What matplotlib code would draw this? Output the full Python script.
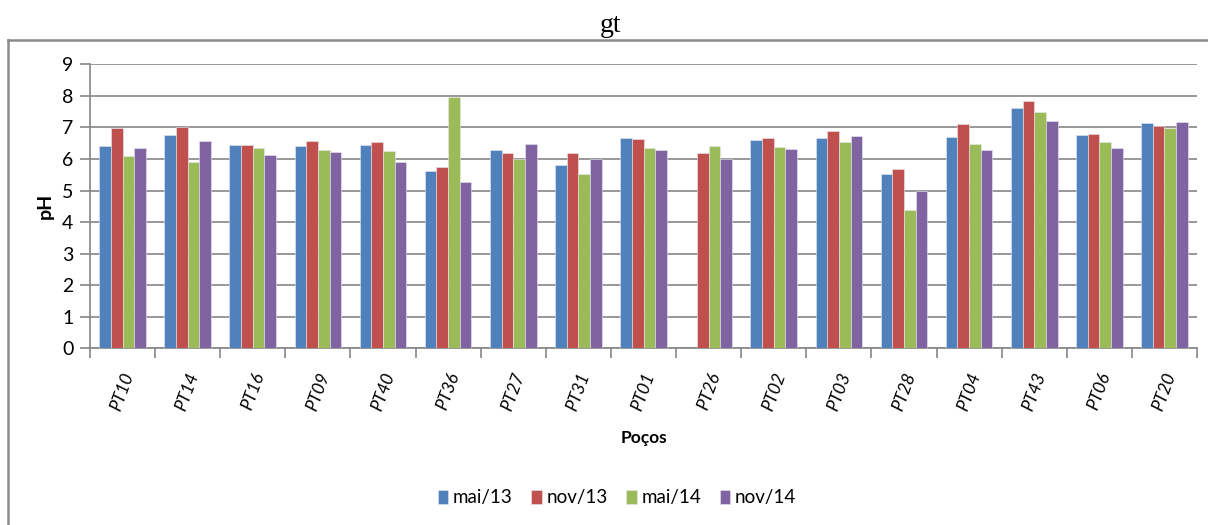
import numpy as np
import matplotlib
matplotlib.use('Agg')
import matplotlib.pyplot as plt
import matplotlib.transforms as mtransforms
from matplotlib.lines import Line2D
from matplotlib.ticker import FixedLocator, NullFormatter

# pH per well and campaign (PT26 has no May/2013 reading)
wells = ['PT10', 'PT14', 'PT16', 'PT09', 'PT40', 'PT36', 'PT27', 'PT31', 'PT01',
         'PT26', 'PT02', 'PT03', 'PT28', 'PT04', 'PT43', 'PT06', 'PT20']
mai13 = [6.41, 6.75, 6.44, 6.41, 6.44, 5.63, 6.28, 5.80, 6.65,
         np.nan, 6.59, 6.65, 5.52, 6.69, 7.60, 6.75, 7.13]
nov13 = [6.99, 7.02, 6.44, 6.58, 6.55, 5.73, 6.18, 6.18, 6.62,
         6.18, 6.65, 6.90, 5.67, 7.10, 7.85, 6.78, 7.03]
mai14 = [6.10, 5.89, 6.35, 6.27, 6.24, 7.95, 6.00, 5.52, 6.35,
         6.41, 6.38, 6.55, 4.39, 6.47, 7.48, 6.55, 6.99]
nov14 = [6.35, 6.58, 6.11, 6.21, 5.89, 5.28, 6.47, 6.00, 6.28,
         6.00, 6.31, 6.73, 4.99, 6.28, 7.20, 6.35, 7.16]
campaigns = ['mai/13', 'nov/13', 'mai/14', 'nov/14']

colors = ['#4F81BD', '#C0504D', '#9BBB59', '#8064A2']
grid_color = '#868686'
font = 'Lato'

fig = plt.figure(figsize=(12.08, 5.25), dpi=100)
ax = fig.add_axes([0.0745, 0.3366, 0.9164, 0.5409])

x = np.arange(len(wells))
w = 0.179
for i, (vals, lab) in enumerate(zip([mai13, nov13, mai14, nov14], campaigns)):
    ax.bar(x + (i - 1.5) * w, vals, width=w, color=colors[i], label=lab,
           edgecolor='#e8e8f0', linewidth=0.4, zorder=3)

ax.set_xlim(-0.5, len(wells) - 0.5)
ax.set_ylim(0, 9)
ax.set_yticks(range(10))
ax.yaxis.grid(True, color=grid_color, linewidth=1.2, zorder=0)

# category labels at centres, tick marks on the boundaries
ax.set_xticks(x)
ax.set_xticklabels(wells, rotation=70, fontstyle='italic', fontsize=12.5,
                   family=font, ha='center', va='top')
shift = mtransforms.ScaledTranslation(-5 / 100, 0, fig.dpi_scale_trans)
for t in ax.get_xticklabels():
    t.set_transform(t.get_transform() + shift)
ax.tick_params(axis='x', which='major', length=0, pad=16)
ax.xaxis.set_minor_locator(FixedLocator(np.arange(-0.5, len(wells), 1.0)))
ax.xaxis.set_minor_formatter(NullFormatter())
ax.tick_params(axis='x', which='minor', length=7, width=1.2, color=grid_color)
ax.tick_params(axis='y', length=7, width=1.2, color=grid_color, pad=5)
for t in ax.get_yticklabels():
    t.set_fontsize(14)
    t.set_family(font)

for side in ('top', 'right'):
    ax.spines[side].set_visible(False)
for side in ('left', 'bottom'):
    ax.spines[side].set_color(grid_color)
    ax.spines[side].set_linewidth(1.2)

ax.set_ylabel('pH', fontsize=14, fontweight='bold', family=font, labelpad=6)
ax.text(0.5, 1 - 438 / 525, 'Poços', transform=mtransforms.blended_transform_factory(
        ax.transAxes, fig.transFigure), ha='center', va='center',
        fontsize=12.5, fontweight='bold', family=font)

fig.text(611 / 1208, 1 - 25 / 525, 'gt', ha='center', va='center',
         fontsize=20, family='Liberation Serif')

# chart-area frame (top and left edges)
fig.add_artist(Line2D([8 / 1208, 1.0], [1 - 40 / 525] * 2,
                      transform=fig.transFigure, color='#8a8a8a', linewidth=1.8))
fig.add_artist(Line2D([8 / 1208] * 2, [0, 1 - 40 / 525],
                      transform=fig.transFigure, color='#8a8a8a', linewidth=1.8))

fig.legend(loc='center', bbox_to_anchor=(617 / 1208, 1 - 498 / 525), ncol=4,
           frameon=False, prop={'family': font, 'size': 13.5},
           handlelength=0.55, handleheight=0.7, handletextpad=0.25,
           columnspacing=1.0)

fig.savefig('out.png', dpi=100, facecolor='white')
